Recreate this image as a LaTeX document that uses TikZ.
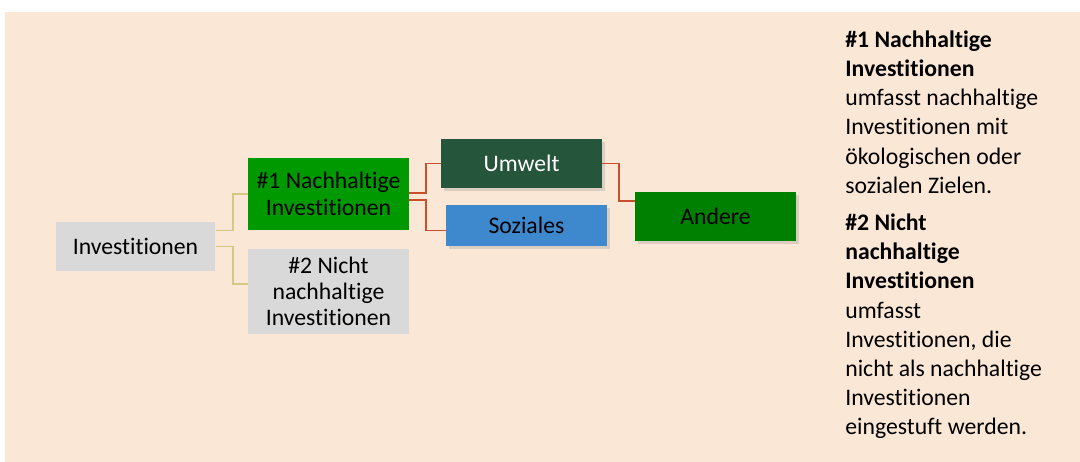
\documentclass[tikz,border=0pt]{standalone}
\usepackage{fontspec}
\setmainfont{Carlito}[Ligatures=NoCommon]
\usetikzlibrary{shadows}
\definecolor{bgpeach}{RGB}{250,231,214}
\definecolor{boxgray}{RGB}{217,217,217}
\definecolor{brightgreen}{RGB}{0,153,0}
\definecolor{darkgreen}{RGB}{37,85,58}
\definecolor{socialblue}{RGB}{62,136,206}
\definecolor{othergreen}{RGB}{0,128,0}
\definecolor{tanline}{RGB}{214,200,130}
\definecolor{redline}{RGB}{200,80,45}
\begin{document}
\begin{tikzpicture}[x=0.02cm,y=-0.02cm,
	box/.style={minimum width=3.22cm,inner sep=0pt,align=center,font=\fontsize{13.5}{15}\selectfont},
	shadowbox/.style={box,drop shadow={shadow xshift=1.5pt,shadow yshift=-1.8pt,opacity=0.25}},
	tanlink/.style={draw=tanline,line width=0.8pt},
	redlink/.style={draw=redline,line width=1.1pt}]
	\useasboundingbox (0,0) rectangle (1080,462);
	\fill[bgpeach] (5,12) rectangle (1080,462);
	% tree
	\node[box,fill=boxgray,minimum width=3.2cm,minimum height=0.98cm] (inv) at (135.5,246.5) {Investitionen};
	\node[box,fill=brightgreen,minimum height=1.44cm] (nh1) at (328.5,194) {\#1 Nachhaltige\\Investitionen};
	\node[box,fill=boxgray,minimum height=1.7cm] (nh2) at (328.5,291.5) {\#2 Nicht\\nachhaltige\\Investitionen};
	\node[shadowbox,fill=darkgreen,text=white,minimum height=0.98cm] (umw) at (521.5,163.5) {Umwelt};
	\node[shadowbox,fill=socialblue,minimum height=0.82cm] (soz) at (526.5,225.5) {Soziales};
	\node[shadowbox,fill=othergreen,minimum height=0.98cm] (andere) at (715.5,216.5) {Andere};
	\draw[tanlink] ([yshift=-0.18cm]inv.north east) -- ++(17,0) |- (nh1.west);
	\draw[tanlink] (inv.east) -- ++(17,0) |- ([yshift=0.15cm]nh2.west);
	\draw[redlink] ([yshift=0.02cm]nh1.east) -- ++(17,0) |- (umw.west);
	\draw[redlink] ([yshift=-0.12cm]nh1.east) -- ++(17,0) |- ([yshift=-0.1cm]soz.west);
	\draw[redlink] (umw.east) -- ++(17,0) |- ([yshift=0.31cm]andere.west);
	% notes
	\node[anchor=north west,inner sep=0pt,align=left,font=\fontsize{13.5}{16.6}\selectfont] (notes) at (845,30.5)
		{\textbf{\#1 Nachhaltige}\\\textbf{Investitionen}\\umfasst nachhaltige\\Investitionen mit\\ökologischen oder\\sozialen Zielen.\\[4.6pt]
		\textbf{\#2 Nicht}\\\textbf{nachhaltige}\\\textbf{Investitionen}\\umfasst\\Investitionen, die\\nicht als nachhaltige\\Investitionen\\eingestuft werden.};
\end{tikzpicture}
\end{document}
